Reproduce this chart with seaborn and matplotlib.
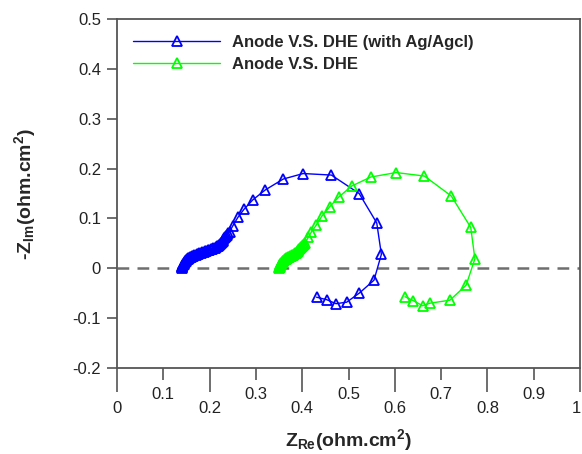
import matplotlib
matplotlib.use("Agg")
import matplotlib.pyplot as plt
import matplotlib.transforms as mtransforms
import seaborn as sns
import pandas as pd

# ---- data ----
blue_x = [0.140, 0.140, 0.141, 0.141, 0.142, 0.143, 0.144, 0.145, 0.146, 0.147,
          0.148, 0.150, 0.151, 0.153, 0.154, 0.156, 0.158, 0.160, 0.162, 0.165,
          0.167, 0.170, 0.172, 0.175, 0.178, 0.181, 0.184, 0.187, 0.190, 0.193,
          0.196, 0.199, 0.202, 0.205, 0.208, 0.211, 0.213, 0.216, 0.218, 0.220,
          0.222, 0.224, 0.226, 0.228, 0.230, 0.232, 0.234, 0.236, 0.238, 0.240,
          0.243, 0.250, 0.261, 0.274, 0.293, 0.320, 0.359, 0.402, 0.463, 0.523,
          0.561, 0.571, 0.555, 0.523, 0.496, 0.473, 0.453, 0.431]
blue_y = [0.000, 0.002, 0.003, 0.005, 0.006, 0.008, 0.009, 0.011, 0.012, 0.014,
          0.015, 0.017, 0.018, 0.019, 0.020, 0.021, 0.022, 0.023, 0.024, 0.025,
          0.026, 0.027, 0.028, 0.029, 0.030, 0.031, 0.032, 0.033, 0.034, 0.035,
          0.036, 0.037, 0.038, 0.039, 0.040, 0.041, 0.042, 0.044, 0.045, 0.047,
          0.048, 0.050, 0.052, 0.055, 0.057, 0.060, 0.062, 0.065, 0.067, 0.070,
          0.073, 0.085, 0.102, 0.118, 0.137, 0.157, 0.179, 0.190, 0.187, 0.150,
          0.091, 0.028, -0.024, -0.050, -0.068, -0.071, -0.063, -0.058]

green_x = [0.350, 0.350, 0.351, 0.351, 0.352, 0.353, 0.354, 0.355, 0.356, 0.358,
           0.359, 0.361, 0.362, 0.364, 0.366, 0.368, 0.370, 0.372, 0.374, 0.376,
           0.378, 0.380, 0.382, 0.384, 0.386, 0.388, 0.390, 0.392, 0.394, 0.396,
           0.398, 0.400, 0.402, 0.404, 0.406, 0.413, 0.420, 0.430, 0.442, 0.459,
           0.479, 0.507, 0.548, 0.603, 0.664, 0.722, 0.764, 0.773, 0.754, 0.719,
           0.676, 0.660, 0.640, 0.622]
green_y = [0.000, 0.002, 0.003, 0.005, 0.006, 0.008, 0.009, 0.011, 0.012, 0.014,
           0.015, 0.017, 0.018, 0.019, 0.020, 0.021, 0.022, 0.023, 0.024, 0.025,
           0.026, 0.027, 0.028, 0.030, 0.031, 0.033, 0.034, 0.036, 0.038, 0.040,
           0.042, 0.044, 0.046, 0.048, 0.050, 0.062, 0.073, 0.086, 0.104, 0.123,
           0.143, 0.165, 0.183, 0.192, 0.185, 0.145, 0.082, 0.019, -0.034, -0.064,
           -0.070, -0.075, -0.065, -0.057]

labels = ["Anode V.S. DHE (with Ag/Agcl)", "Anode V.S. DHE"]
colors = ["#0000ff", "#00ff00"]

x_major = [0, 0.2, 0.4, 0.6, 0.8, 1]
x_minor = [0.1, 0.3, 0.5, 0.7, 0.9]
x_major_labels = ["0", "0.2", "0.4", "0.6", "0.8", "1"]
x_minor_labels = ["0.1", "0.3", "0.5", "0.7", "0.9"]
y_ticks = [-0.2, -0.1, 0, 0.1, 0.2, 0.3, 0.4, 0.5]
y_labels = ["-0.2", "-0.1", "0", "0.1", "0.2", "0.3", "0.4", "0.5"]

# ---- style ----
sns.set_theme(style="white")
plt.rcParams["font.family"] = ["Liberation Sans", "DejaVu Sans"]
plt.rcParams["mathtext.fontset"] = "custom"
plt.rcParams["mathtext.rm"] = "Liberation Sans"
plt.rcParams["mathtext.bf"] = "Liberation Sans:bold"
plt.rcParams["mathtext.it"] = "Liberation Sans:italic"

fig = plt.figure(figsize=(5.82, 4.54), dpi=100)
ax = fig.add_axes([117 / 582, 1 - 368 / 454, (580 - 117) / 582, (368 - 19) / 454])

ax.axhline(0, color="#6e6e6e", lw=1.8, dashes=(4.7, 3.3), zorder=1)

df_b = pd.DataFrame({"x": blue_x, "y": blue_y})
df_g = pd.DataFrame({"x": green_x, "y": green_y})
for df, c, lab in [(df_b, colors[0], labels[0]), (df_g, colors[1], labels[1])]:
    sns.lineplot(data=df, x="x", y="y", sort=False, estimator=None, ax=ax,
                 color=c, lw=1.0, marker="^", markersize=7.5,
                 markerfacecolor="none", markeredgecolor=c, markeredgewidth=1.3,
                 label=lab, zorder=3)

ax.set_xlim(0, 1)
ax.set_ylim(-0.2, 0.5)

spine_c = "#555555"
for s in ax.spines.values():
    s.set_visible(True)
    s.set_color(spine_c)
    s.set_linewidth(1.3)

ax.set_yticks(y_ticks)
ax.set_yticklabels(y_labels)
ax.set_xticks(x_major)
ax.set_xticklabels(x_major_labels)
ax.set_xticks(x_minor, minor=True)
ax.set_xticklabels(x_minor_labels, minor=True)

ax.tick_params(axis="y", which="major", direction="out", length=7.5, width=1.2,
               color=spine_c, labelsize=12, pad=4, left=True, labelcolor="#222222")
ax.tick_params(axis="x", which="major", direction="out", length=17, width=1.2,
               color=spine_c, labelsize=12, pad=7, bottom=True, labelcolor="#222222")
ax.tick_params(axis="x", which="minor", direction="out", length=8.5, width=1.2,
               color=spine_c, labelsize=12, pad=5, bottom=True, labelcolor="#222222")

# keep the last "1" label inside the canvas
last = ax.get_xticklabels()[-1]
last.set_transform(last.get_transform() +
                   mtransforms.ScaledTranslation(-4 / 100, 0, fig.dpi_scale_trans))

ax.set_xlabel(r"Z$_{\mathbf{Re}}$(ohm.cm$^{\mathbf{2}}$)", fontsize=14,
              fontweight="bold", labelpad=8)
ax.set_ylabel(r"-Z$_{\mathbf{Im}}$(ohm.cm$^{\mathbf{2}}$)", fontsize=14,
              fontweight="bold", labelpad=25)

ax.legend(loc="upper left", bbox_to_anchor=(0.035, 0.955), frameon=False,
          borderpad=0, borderaxespad=0, handlelength=5.2, handletextpad=0.7,
          labelspacing=0.45, prop={"weight": "bold", "size": 12})

fig.savefig("out.png", dpi=100)
